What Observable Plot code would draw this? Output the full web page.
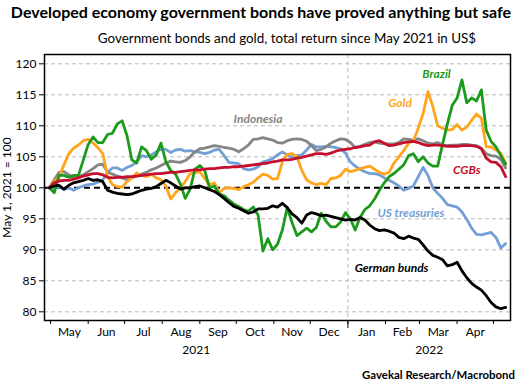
<!DOCTYPE html>
<html><head><meta charset="utf-8">
<script src="https://cdn.jsdelivr.net/npm/d3@7"></script>
<script src="https://cdn.jsdelivr.net/npm/@observablehq/plot@0.6"></script>
<style>
body{margin:0;background:#fff;font-family:Lato,"Open Sans",sans-serif;color:#000;}
#wrap{position:relative;width:522px;height:387px;overflow:hidden;}
#title{position:absolute;left:0;top:0;width:522px;text-align:center;font-weight:bold;font-size:16px;line-height:24px;white-space:nowrap;}
#subtitle{position:absolute;left:26px;top:28px;width:522px;text-align:center;font-size:13.4px;line-height:20px;white-space:nowrap;}
#chart{position:absolute;left:0;top:48px;}
#caption{position:absolute;right:7px;top:366px;font-weight:bold;font-size:11.4px;line-height:18px;white-space:nowrap;}
</style></head>
<body>
<div id="wrap">
<div id="title">Developed economy government bonds have proved anything but safe</div>
<div id="subtitle">Government bonds and gold, total return since May 2021 in US$</div>
<div id="chart"></div>
<div id="caption">Gavekal Research/Macrobond</div>
</div>
<script>
// ---- data (sampled every 4 days from 2021-04-30) ----
const seriesNames = ["US treasuries", "Indonesia", "Gold", "Brazil", "CGBs", "German bunds"];
const usTreasuries = [100.0,99.8,100.2,99.7,100.0,99.6,100.0,100.3,100.5,100.6,
100.9,101.3,102.5,103.2,103.2,102.8,103.3,103.6,104.2,105.2,
105.0,105.3,105.8,106.2,106.2,105.7,106.1,106.2,105.9,106.0,
105.8,105.7,105.5,105.7,106.1,106.2,105.2,104.1,104.0,103.9,
103.1,102.9,103.0,103.4,104.2,104.4,104.7,105.3,105.8,105.3,
104.9,105.2,105.3,106.1,107.0,106.6,106.6,106.7,106.6,106.5,
106.3,105.6,104.2,103.5,103.0,102.6,102.3,102.3,102.1,101.6,
101.2,100.8,100.3,99.6,99.9,100.3,101.8,103.3,102.0,100.0,
99.1,98.3,97.3,97.1,96.9,96.1,94.9,93.5,92.5,92.4,
92.6,92.8,92.0,90.3,91.0];
const indonesia = [100.0,101.3,102.5,102.6,102.1,101.6,101.8,102.1,102.6,103.1,
103.7,103.8,102.5,102.2,101.9,101.6,101.3,101.6,101.9,102.2,
102.5,102.9,103.2,103.6,104.0,104.3,104.2,104.1,104.4,105.0,
105.8,106.3,106.4,106.6,106.8,106.7,106.5,106.4,106.2,105.8,
106.3,106.9,107.8,107.9,108.1,107.9,107.7,107.3,107.2,107.6,
107.8,107.9,107.8,107.5,106.8,106.0,106.2,106.6,107.2,107.6,
107.9,107.8,107.3,106.5,106.7,107.0,107.3,107.4,107.2,107.1,
107.1,107.1,107.3,107.9,107.8,107.7,107.9,107.6,107.2,107.1,
107.3,106.9,106.8,106.9,106.9,107.0,107.0,106.9,106.8,106.4,
105.5,105.2,105.1,104.6,103.2];
const gold = [100.0,101.0,101.8,103.7,105.5,106.4,106.9,107.6,107.8,107.2,
106.5,105.5,101.8,100.5,100.2,100.1,101.0,101.6,102.4,102.0,
101.8,102.2,101.6,101.3,100.3,98.2,99.2,100.0,101.0,102.3,
102.4,102.6,101.5,100.5,100.8,99.2,99.9,100.0,99.9,99.7,
100.2,100.5,100.9,101.6,102.2,102.0,101.4,101.5,104.2,105.4,
105.5,105.0,102.8,101.3,100.8,100.5,100.7,100.5,101.5,101.6,
102.0,103.0,102.6,102.8,103.1,103.3,103.5,103.0,102.5,102.2,
102.5,104.0,105.0,106.0,107.2,107.6,109.6,112.0,115.5,113.1,
110.0,109.6,109.3,109.4,110.2,109.3,109.8,110.9,111.9,111.2,
106.6,106.6,106.1,105.6,104.0];
const brazil = [100.0,99.2,102.0,102.0,101.7,102.0,102.0,104.5,107.0,108.2,
107.3,107.3,108.6,108.8,110.3,110.8,108.4,104.5,104.0,106.6,
106.0,104.6,105.3,107.2,104.2,102.8,102.2,100.6,98.3,99.8,
103.0,103.6,102.8,100.0,100.3,99.0,98.7,98.0,97.4,97.0,
96.5,96.2,96.9,95.6,89.8,91.8,90.0,90.9,93.2,96.8,
94.4,92.3,92.9,93.5,92.9,93.6,95.9,94.6,93.7,93.7,
94.5,96.0,95.0,93.2,95.2,96.5,97.1,98.2,99.6,100.8,
101.8,102.3,103.0,103.7,105.2,105.5,104.2,105.0,104.0,103.5,
103.5,107.0,110.3,113.3,114.5,117.4,113.7,114.5,114.0,115.8,
109.3,107.5,106.6,105.2,103.8];
const cgbs = [100.0,100.8,101.1,101.2,101.2,101.4,101.6,101.9,102.1,102.3,
102.3,102.1,101.7,101.6,101.7,101.7,101.8,101.8,101.9,102.0,
102.1,102.2,102.3,102.3,102.4,102.5,102.5,102.6,102.7,102.8,
102.9,102.9,103.0,103.1,103.1,103.2,103.3,103.3,103.4,103.4,
103.5,103.6,103.7,103.8,103.9,104.0,104.2,104.3,104.5,104.5,
104.6,104.8,104.9,105.1,105.3,105.5,105.5,105.4,105.6,105.9,
106.1,106.2,106.3,106.5,106.6,106.8,106.9,107.4,107.6,107.2,
106.8,106.9,107.1,107.3,107.4,107.5,107.3,107.0,106.8,106.9,
106.9,106.8,106.7,106.7,106.7,106.8,106.8,106.8,106.7,106.3,
104.8,104.2,104.1,103.4,101.8];
const germanBunds = [100.0,100.3,100.4,99.8,100.4,100.8,101.0,101.2,101.5,101.2,
101.3,101.0,99.6,99.3,99.1,99.0,98.9,99.0,99.3,99.6,
99.8,99.9,100.2,100.7,101.2,100.8,100.3,99.8,100.0,100.0,
100.2,100.3,100.0,99.7,99.4,98.9,98.3,97.6,97.0,96.7,
96.3,95.9,96.1,96.6,96.6,96.7,97.1,96.9,97.5,96.8,
95.8,95.2,94.3,95.6,96.0,95.8,95.5,95.6,95.4,95.2,
95.0,94.8,94.9,94.8,95.2,94.8,94.0,93.4,93.1,93.2,
93.0,92.7,92.0,91.8,92.2,91.9,91.7,90.8,89.8,89.1,
88.8,88.4,87.4,87.6,88.0,86.6,85.5,84.6,84.0,83.5,
82.6,81.5,80.8,80.5,80.7];
const yTicks = [80, 85, 90, 95, 100, 105, 110, 115, 120];
const monthLabels = ["May","Jun","Jul","Aug","Sep","Oct","Nov","Dec","Jan","Feb","Mar","Apr"];
const yearLabels = ["2021", "2022"];
const yLabel = "May 1, 2021 = 100";

// ---- build ----
const start = new Date(Date.UTC(2021, 3, 30));
const xDomain = [new Date(Date.UTC(2021, 3, 26)), new Date(Date.UTC(2022, 4, 15))];
const jan1 = new Date(Date.UTC(2022, 0, 1));
const valuesBy = {"US treasuries": usTreasuries, "Indonesia": indonesia, "Gold": gold, "Brazil": brazil, "CGBs": cgbs, "German bunds": germanBunds};
const colors = {"US treasuries": "#739fd6", "Indonesia": "#858585", "Gold": "#ffa41c", "Brazil": "#1d9a1d", "CGBs": "#c4102c", "German bunds": "#000000"};
const rows = [];
for (const name of seriesNames) {
  valuesBy[name].forEach((v, i) => rows.push({name, date: d3.utcDay.offset(start, 4 * i), value: v}));
}
const monthStarts = d3.range(13).map(i => new Date(Date.UTC(2021, 4 + i, 1)));
const monthMids = monthLabels.map((m, i) => ({label: m, date: new Date((+monthStarts[i] + +monthStarts[i + 1]) / 2)}));
const yearPos = [
  {label: yearLabels[0], date: new Date((+xDomain[0] + +jan1) / 2)},
  {label: yearLabels[1], date: new Date((+jan1 + +xDomain[1]) / 2)}
];
const labels = [
  {name: "Indonesia", date: new Date(Date.UTC(2021, 9, 19)), value: 111.0},
  {name: "Brazil", date: new Date(Date.UTC(2022, 2, 15)), value: 118.3},
  {name: "Gold", date: new Date(Date.UTC(2022, 1, 13)), value: 113.6},
  {name: "CGBs", date: new Date(Date.UTC(2022, 3, 9)), value: 102.8},
  {name: "US treasuries", date: new Date(Date.UTC(2022, 1, 22)), value: 95.9},
  {name: "German bunds", date: new Date(Date.UTC(2022, 1, 6)), value: 87.0}
];

const chart = Plot.plot({
  width: 522, height: 317,
  marginTop: 6, marginBottom: 45, marginLeft: 44, marginRight: 12,
  style: {fontFamily: "Lato, 'Open Sans', sans-serif", fontSize: "12px", color: "#000", background: "#fff"},
  x: {type: "utc", domain: xDomain},
  y: {domain: [78.6, 121.5]},
  marks: [
    Plot.ruleY(yTicks.filter(d => d !== 100), {stroke: "#b8b8b8", strokeWidth: 1, strokeDasharray: "4,3"}),
    Plot.ruleX([jan1], {stroke: "#b8b8b8", strokeWidth: 1, strokeDasharray: "4,3"}),
    Plot.ruleY([100], {stroke: "#000", strokeWidth: 2, strokeDasharray: "6,4"}),
    Plot.line(rows, {x: "date", y: "value", z: "name", stroke: d => colors[d.name], strokeWidth: 2.8, strokeLinejoin: "round", strokeLinecap: "round"}),
    Plot.text(labels, {x: "date", y: "value", text: "name", fill: d => colors[d.name], fontWeight: "bold", fontStyle: "italic", fontSize: 12}),
    Plot.frame({stroke: "#000", strokeWidth: 1.5}),
    Plot.axisY(yTicks, {tickSize: 5, tickPadding: 3, fontSize: 12, label: yLabel, labelAnchor: "center", labelArrow: "none", labelOffset: 42}),
    Plot.axisX(monthStarts, {tickSize: 4, tickFormat: () => "", label: null}),
    Plot.axisX([jan1], {tickSize: 8, tickFormat: () => "", label: null}),
    Plot.text(monthMids, {x: "date", text: "label", frameAnchor: "bottom", dy: 15, fontSize: 12}),
    Plot.text(yearPos, {x: "date", text: "label", frameAnchor: "bottom", dy: 33, fontSize: 12})
  ]
});
document.getElementById("chart").appendChild(chart);
</script>
</body></html>
